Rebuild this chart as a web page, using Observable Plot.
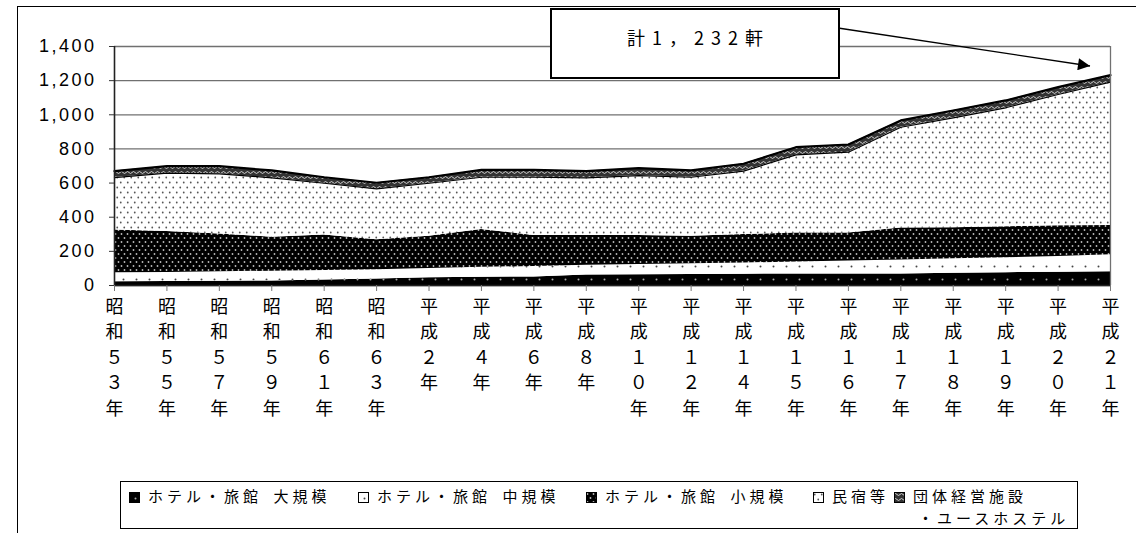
<!DOCTYPE html>
<html><head><meta charset="utf-8">
<script src="https://cdn.jsdelivr.net/npm/d3@7"></script>
<script src="https://cdn.jsdelivr.net/npm/@observablehq/plot@0.6"></script>
<style>
html,body{margin:0;padding:0;background:#fff;overflow:hidden;}
#wrap{position:relative;width:1136px;height:533px;overflow:hidden;}
#frame{position:absolute;left:17px;top:6px;width:1200px;height:600px;border-left:1px solid #000;border-top:1px solid #000;box-sizing:border-box;}
#chart{position:absolute;left:0;top:0;}
#note{position:absolute;left:550px;top:8px;width:286px;height:67px;border:2px solid #000;background:#fff;font-family:"Noto Sans CJK JP";font-size:18px;letter-spacing:7px;box-sizing:content-box;text-align:center;line-height:22px;}
#note span{display:block;margin-top:16px;padding-left:7px;}
#arrow{position:absolute;left:0;top:0;}
#legend{position:absolute;left:120px;top:481px;width:956px;height:46px;border:1px solid #000;background:#fff;font-family:"Noto Sans CJK JP";font-size:15px;letter-spacing:4px;color:#000;}
.item{position:absolute;top:3px;white-space:nowrap;line-height:22px;height:22px;}
.item svg{vertical-align:-1px;margin-right:8px;}
#defs{position:absolute;width:0;height:0;}
</style>
</head><body>
<svg id="defs" width="0" height="0">
  <defs>
    <pattern id="pL" patternUnits="userSpaceOnUse" width="13" height="13">
      <rect width="13" height="13" fill="#000"/><circle cx="6.5" cy="6.5" r="1" fill="#aaa"/>
    </pattern>
    <pattern id="pM" patternUnits="userSpaceOnUse" width="13" height="13">
      <rect width="13" height="13" fill="#fff"/><circle cx="6.5" cy="6.5" r="1" fill="#444"/>
    </pattern>
    <pattern id="pS" patternUnits="userSpaceOnUse" width="6" height="8">
      <rect width="6" height="8" fill="#000"/><circle cx="1.5" cy="2" r="0.9" fill="#bbb"/><circle cx="4.5" cy="6" r="0.9" fill="#bbb"/>
    </pattern>
    <pattern id="pN" patternUnits="userSpaceOnUse" width="7" height="10">
      <rect width="7" height="10" fill="#fff"/><circle cx="1.75" cy="2.5" r="0.9" fill="#555"/><circle cx="5.25" cy="7.5" r="0.9" fill="#555"/>
    </pattern>
    <pattern id="pD" patternUnits="userSpaceOnUse" width="6" height="5">
      <rect width="6" height="5" fill="#333"/><path d="M0,2.5 Q1.5,0.5 3,2.5 T6,2.5" stroke="#ddd" stroke-width="0.9" fill="none"/>
    </pattern>
  </defs>
</svg>
<div id="wrap">
  <div id="frame"></div>
  <div id="chart"></div>
  <svg id="arrow" width="1136" height="533">
    <defs><marker id="ah" viewBox="0 0 10 10" refX="10" refY="5" markerWidth="16" markerHeight="12" orient="auto" markerUnits="userSpaceOnUse"><path d="M0,0 L10,5 L0,10 z" fill="#000"/></marker></defs>
  </svg>
  <div id="note"><span></span></div>
  <div id="legend"></div>
</div>
<script>
// ---- data ----
const categories = ["昭和53年","昭和55年","昭和57年","昭和59年","昭和61年","昭和63年","平成2年","平成4年","平成6年","平成8年","平成10年","平成12年","平成14年","平成15年","平成16年","平成17年","平成18年","平成19年","平成20年","平成21年"];
const series = ["ホテル・旅館　大規模","ホテル・旅館　中規模","ホテル・旅館　小規模","民宿等","団体経営施設・ユースホステル"];
const large    = [22,23,25,27,32,38,46,49,50,62,63,64,66,68,68,68,72,75,78,80];
const medium   = [52,53,55,57,56,54,54,58,61,57,60,63,66,69,75,82,84,87,92,100];
const small    = [251,241,222,199,208,176,188,221,182,174,170,161,167,170,165,187,183,182,180,171];
const minshuku = [307,341,352,348,303,298,311,306,341,338,351,346,371,458,473,590,643,697,769,840];
const dantai   = [38,41,45,43,35,36,35,43,43,39,43,40,43,45,45,40,43,43,43,41];
const yTicks = [0,200,400,600,800,1000,1200,1400];
const noteText = "計1，232軒";
const legendLabels = ["ホテル・旅館\u2002大規模","ホテル・旅館\u2002中規模","ホテル・旅館\u2002小規模","民宿等","団体経営施設"];
const legendLabel2 = "・ユースホステル";

// ---- build ----
const patterns = ["url(#pL)","url(#pM)","url(#pS)","url(#pN)","url(#pD)"];
const valuesBySeries = [large, medium, small, minshuku, dantai];
const rows = series.flatMap((s, k) => categories.map((c, i) => ({series: s, i, value: valuesBySeries[k][i]})));
const cum = (n) => categories.map((c, i) => ({i, v: valuesBySeries.slice(0, n).reduce((a, arr) => a + arr[i], 0)}));
const toFull = s => s.replace(/[0-9]/g, d => String.fromCharCode(d.charCodeAt(0) + 0xFEE0));
const fmtCat = i => [...toFull(categories[i])].join("\n");

const plot = Plot.plot({
  width: 1136, height: 440,
  marginLeft: 114, marginRight: 26, marginTop: 46, marginBottom: 155,
  style: {background: "transparent"},
  x: {type: "linear", domain: [0, categories.length - 1]},
  y: {domain: [0, 1400]},
  color: {domain: series, range: patterns},
  marks: [
    Plot.gridY({ticks: yTicks, stroke: "#707070", strokeOpacity: 1, strokeWidth: 1.3}),
    Plot.areaY(rows, {x: "i", y: "value", z: "series", fill: "series", order: series}),
    Plot.lineY(cum(4), {x: "i", y: "v", stroke: "#000", strokeWidth: 1.2}),
    Plot.lineY(cum(5), {x: "i", y: "v", stroke: "#000", strokeWidth: 2.2}),
    Plot.ruleX([categories.length - 1], {stroke: "#707070", strokeWidth: 1.3}),
    Plot.ruleX([0], {stroke: "#222", strokeWidth: 1.6}),
    Plot.ruleY([0], {stroke: "#222", strokeWidth: 1.6}),
    Plot.axisY({ticks: yTicks, tickFormat: d3.format(","), tickSize: 5, tickPadding: 13, fontSize: 18, fontFamily: "Liberation Sans", label: null, fill: "#000", stroke: "#333"}),
    Plot.axisX({ticks: d3.range(categories.length), tickFormat: fmtCat, tickSize: 6, tickPadding: 3, fontSize: 18, lineHeight: 1.42, fontFamily: "Noto Sans CJK JP", label: null, fill: "#000", stroke: "#777"})
  ]
});
d3.select(plot).selectAll("g[aria-label='y-axis tick label'] text").style("letter-spacing", "2.5px");
document.getElementById("chart").appendChild(plot);

// annotation
document.querySelector("#note span").textContent = noteText;
const ar = d3.select("#arrow");
ar.append("line").attr("x1", 838).attr("y1", 28).attr("x2", 1090).attr("y2", 66)
  .attr("stroke", "#000").attr("stroke-width", 1.4).attr("marker-end", "url(#ah)");

// legend
const lg = document.getElementById("legend");
const lefts = [8, 237, 465, 692, 773];
legendLabels.forEach((t, k) => {
  const d = document.createElement("div");
  d.className = "item";
  d.style.left = lefts[k] + "px";
  d.innerHTML = `<svg width="11" height="11"><rect x="0.5" y="0.5" width="10" height="10" fill="${patterns[k]}" stroke="#000"/></svg>` + t;
  lg.appendChild(d);
});
const l2 = document.createElement("div");
l2.className = "item";
l2.style.left = "797px";
l2.style.top = "25px";
l2.textContent = legendLabel2;
lg.appendChild(l2);
</script>
</body></html>
